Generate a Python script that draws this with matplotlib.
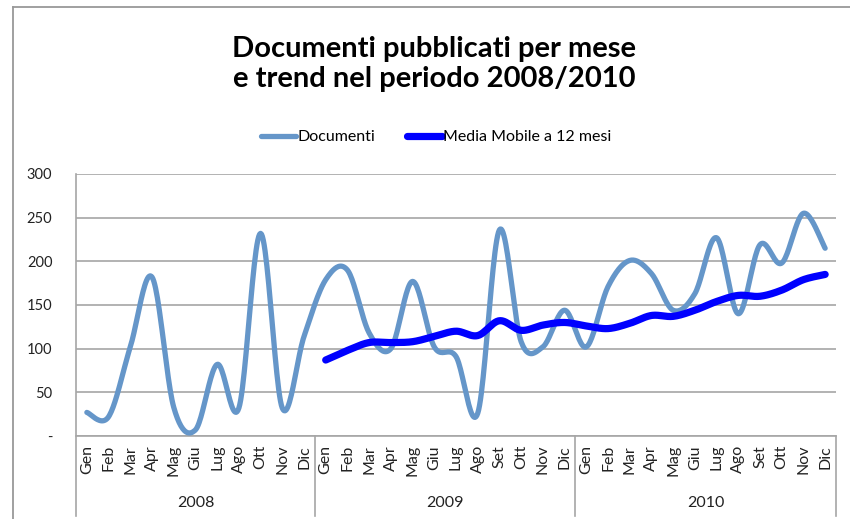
import numpy as np
import matplotlib.pyplot as plt
from matplotlib.lines import Line2D
from matplotlib.transforms import blended_transform_factory

plt.rcParams['font.family'] = ['Lato', 'DejaVu Sans']

# data (2008 has no "Set" category)
years = ['2008', '2009', '2010']
months_2008 = ['Gen', 'Feb', 'Mar', 'Apr', 'Mag', 'Giu', 'Lug', 'Ago', 'Ott', 'Nov', 'Dic']
months_full = ['Gen', 'Feb', 'Mar', 'Apr', 'Mag', 'Giu', 'Lug', 'Ago', 'Set', 'Ott', 'Nov', 'Dic']
documenti = [27, 22, 102, 182, 33, 7, 82, 32, 232, 32, 114,
             179, 190, 118, 100, 177, 102, 91, 26, 236, 108, 102, 144,
             102, 171, 201, 186, 144, 163, 227, 140, 219, 198, 255, 215]
# 12-month moving average, starts at Gen 2009
media_mobile = [87, 98, 107, 107, 108, 114, 120, 115, 132, 121, 127, 130,
                126, 123, 129, 138, 137, 144, 154, 161, 160, 167, 179, 185]

labels = months_2008 + months_full + months_full
group_sizes = [len(months_2008), len(months_full), len(months_full)]

W, H = 850, 519


def fx(px):
    return px / W


def fy(py):
    return 1 - py / H


def smooth(xs, ys, n=24):
    # Catmull-Rom spline through the points, like Excel's smoothed line
    xs = np.asarray(xs, float)
    ys = np.asarray(ys, float)
    out_x, out_y = [], []
    for i in range(len(xs) - 1):
        i0 = max(i - 1, 0)
        i3 = min(i + 2, len(xs) - 1)
        t = np.linspace(0, 1, n, endpoint=False)
        for arr, out in ((xs, out_x), (ys, out_y)):
            p0, p1, p2, p3 = arr[i0], arr[i], arr[i + 1], arr[i3]
            out.extend(0.5 * ((2 * p1) + (-p0 + p2) * t
                              + (2 * p0 - 5 * p1 + 4 * p2 - p3) * t ** 2
                              + (-p0 + 3 * p1 - 3 * p2 + p3) * t ** 3))
    out_x.append(xs[-1])
    out_y.append(ys[-1])
    return np.array(out_x), np.array(out_y)


fig = plt.figure(figsize=(8.5, 5.19), dpi=100)
ax = fig.add_axes([fx(76), fy(436), (836 - 76) / W, (436 - 174) / H])

grid_col = '#a6a6a6'
doc_col = '#6596c9'
mm_col = '#0000ff'
txt_col = '#222222'

x_doc = np.arange(len(documenti))
x_mm = np.arange(len(documenti) - len(media_mobile), len(documenti))

sx, sy = smooth(x_doc, documenti)
ax.plot(sx, sy, color=doc_col, lw=3.8, solid_capstyle='round', clip_on=False, zorder=3)
sx, sy = smooth(x_mm, media_mobile)
ax.plot(sx, sy, color=mm_col, lw=5.2, solid_capstyle='round', clip_on=False, zorder=4)

ax.set_xlim(-0.5, len(documenti) - 0.5)
ax.set_ylim(0, 300)
ax.set_yticks(range(0, 301, 50))
ax.set_yticklabels(['-'] + [str(v) for v in range(50, 301, 50)])
ax.tick_params(axis='y', length=0, pad=17, labelsize=10.5, colors=txt_col)
ax.set_xticks([])
ax.grid(axis='y', color=grid_col, lw=1.2)
ax.set_axisbelow(True)
for s in ['left', 'right', 'top']:
    ax.spines[s].set_visible(False)
ax.spines['bottom'].set_color(grid_col)
ax.spines['bottom'].set_linewidth(1.2)

# category table under the plot
bt = blended_transform_factory(ax.transData, fig.transFigure)
for i, lab in enumerate(labels):
    ax.text(i, fy(445), lab, rotation=90, ha='center', va='top', fontsize=11.5,
            color=txt_col, transform=bt)

bounds = np.cumsum([0] + group_sizes) - 0.5
for b in bounds[1:]:
    ax.plot([b, b], [fy(436), fy(516)], color=grid_col, lw=1.2, transform=bt, clip_on=False)
for k, yr in enumerate(years):
    ax.text((bounds[k] + bounds[k + 1]) / 2, fy(503), yr, ha='center', va='center',
            fontsize=11.5, color=txt_col, transform=bt)

fig.add_artist(Line2D([fx(76), fx(76)], [fy(174), fy(516)], color=grid_col, lw=1.2))

# outer chart border (top and left only visible)
fig.add_artist(Line2D([fx(13.5), 1], [fy(7), fy(7)], color='#999999', lw=1.3))
fig.add_artist(Line2D([fx(13.5), fx(13.5)], [fy(7), 0], color='#999999', lw=1.3))

fig.text(fx(434), fy(64), 'Documenti pubblicati per mese\ne trend nel periodo 2008/2010',
         ha='center', va='center', fontsize=21, fontweight='bold', linespacing=1.22)

handles = [Line2D([], [], color=doc_col, lw=3.8, solid_capstyle='round'),
           Line2D([], [], color=mm_col, lw=5.2, solid_capstyle='round')]
fig.legend(handles, ['Documenti', 'Media Mobile a 12 mesi'], loc='center',
           bbox_to_anchor=(fx(436), fy(137)), ncol=2, frameon=False, fontsize=11.5,
           handlelength=2.2, handletextpad=0.05, columnspacing=2.0)

fig.savefig('out.png', dpi=100)
